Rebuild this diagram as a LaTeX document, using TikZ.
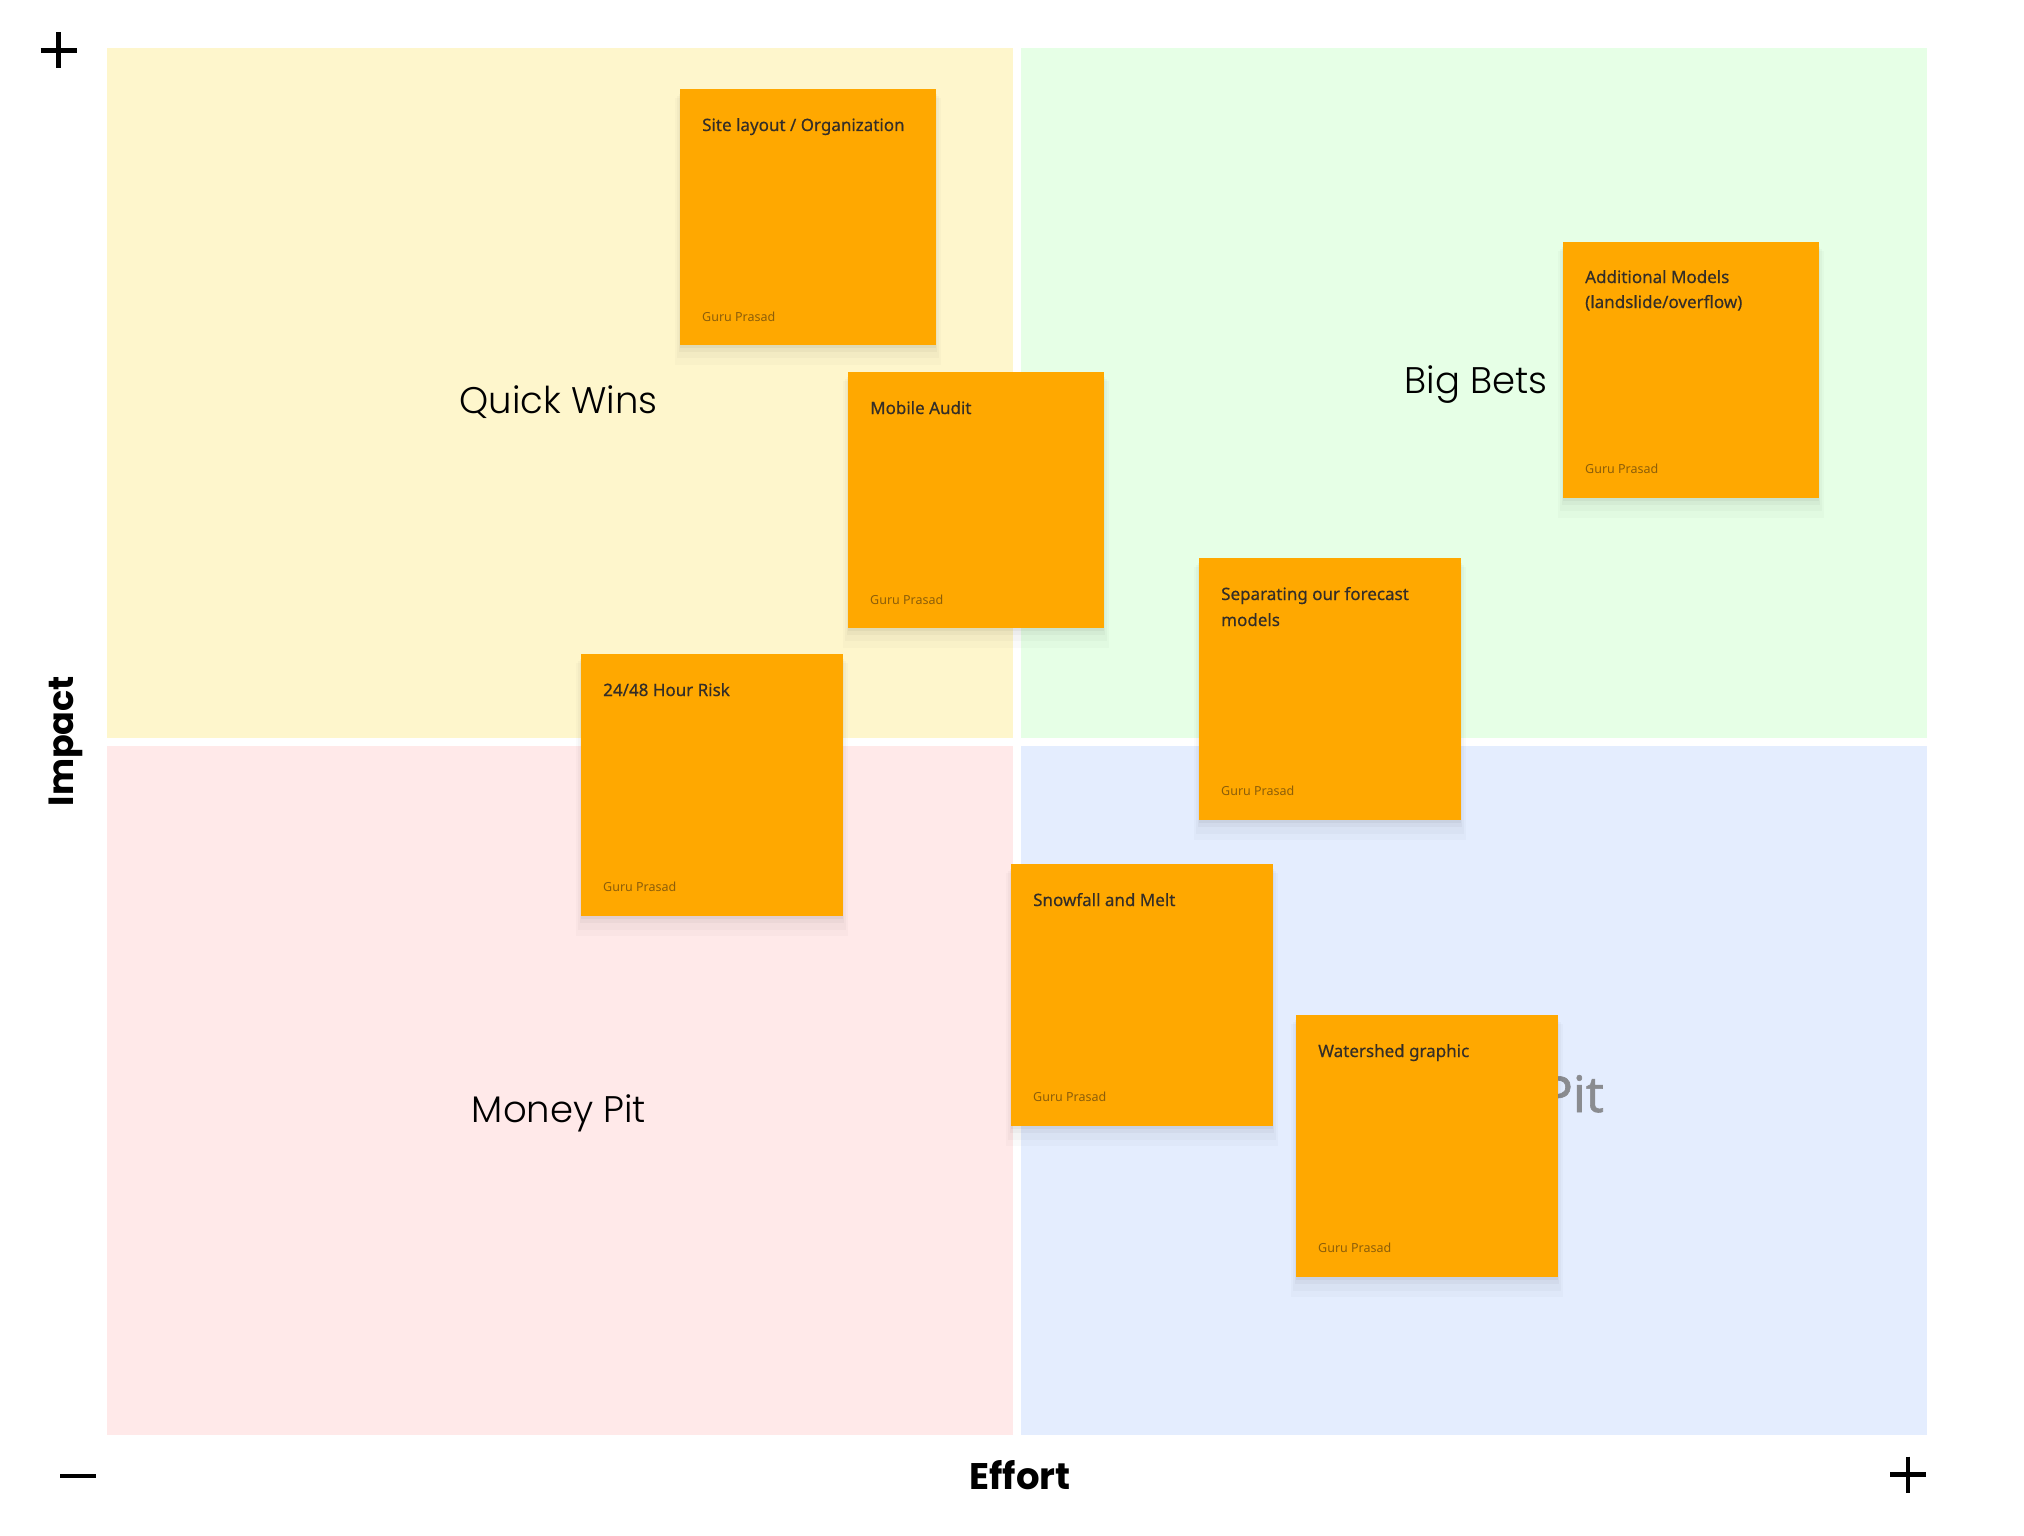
\documentclass[tikz,border=0pt]{standalone}
\usepackage{fontspec}
\usetikzlibrary{shadows}
\setmainfont{Noto Sans}
\IfFontExistsTF{Poppins Light}{\newfontfamily\quadfont{Poppins Light}}{\newfontfamily\quadfont{Poppins}}
\newfontfamily\medfont{Noto Sans}[FakeBold=0.4]
\newfontfamily\pitfont{Noto Sans}[FakeBold=1.2]
\newfontfamily\axfont{Poppins}
\definecolor{qyellow}{RGB}{254,246,204}
\definecolor{qgreen}{RGB}{230,255,230}
\definecolor{qpink}{RGB}{255,233,233}
\definecolor{qblue}{RGB}{228,237,254}
\definecolor{stickyc}{RGB}{255,168,0}
\definecolor{ttlc}{RGB}{52,46,40}
\definecolor{authc}{RGB}{140,94,10}
\definecolor{pitc}{RGB}{138,140,144}
\begin{document}
\begin{tikzpicture}[x=1pt,y=-1pt,
  quad/.style={draw=none,inner sep=0,outer sep=0,anchor=north west,minimum width=906pt},
  sticky/.style={fill=stickyc,draw=none,inner sep=0,outer sep=0,anchor=north west,
    drop shadow={shadow xshift=0pt,shadow yshift=-14pt,opacity=0.02,fill=black,shadow scale=1.04},
    drop shadow={shadow xshift=0pt,shadow yshift=-10pt,opacity=0.025,fill=black,shadow scale=1.025},
    drop shadow={shadow xshift=0pt,shadow yshift=-6pt,opacity=0.03,fill=black,shadow scale=1.01},
    drop shadow={shadow xshift=0pt,shadow yshift=-3pt,opacity=0.04,fill=black}},
  ttl/.style={inner sep=0,anchor=base west,text=ttlc,font=\medfont\fontsize{17}{25}\selectfont},
  auth/.style={inner sep=0,anchor=base west,text=authc,font=\fontsize{12.5}{15}\selectfont},
  qlabel/.style={inner sep=0,text=black,font=\quadfont\fontsize{37}{44}\selectfont},
  axlabel/.style={inner sep=0,text=black,font=\axfont\bfseries\fontsize{37}{44}\selectfont},
  axmark/.style={line width=4.5pt,black}]
\useasboundingbox (0,0) rectangle (2024,1536);
\fill[white] (0,0) rectangle (2024,1536);
% quadrants
\node[quad,fill=qyellow,minimum height=690pt] (qw) at (107,48) {};
\node[quad,fill=qgreen,minimum height=690pt] (bb) at (1021,48) {};
\node[quad,fill=qpink,minimum height=689pt] (mp) at (107,746) {};
\node[quad,fill=qblue,minimum height=689pt] (lr) at (1021,746) {};
% quadrant labels
\node[qlabel,anchor=base] (lqw) at (558.5,413) {Quick Wins};
\node[qlabel,anchor=base] (lbb) at (1476,393) {Big Bets};
\node[qlabel,anchor=base] (lmp) at (559,1122) {Money Pit};
\node[inner sep=0,anchor=base east,text=pitc,font=\pitfont\fontsize{50}{60}\selectfont] (lpit) at (1604,1112) {Pit};
% axes
\draw[axmark] (40.5,50.5) -- (76.5,50.5);
\draw[axmark] (58.5,32.5) -- (58.5,68.5);
\draw[axmark] (60,1476) -- (96,1476);
\draw[axmark] (1890,1474.5) -- (1926,1474.5);
\draw[axmark] (1908,1456.5) -- (1908,1492.5);
\node[axlabel,anchor=base] (eff) at (1020,1489) {Effort};
\node[axlabel,anchor=base,rotate=90,font=\axfont\bfseries\fontsize{35}{42}\selectfont] (imp) at (73,741) {Impact};
% stickies
\node[sticky,minimum width=256pt,minimum height=256pt] (s1) at (680,89) {};
\node[ttl] (t1) at ([xshift=22pt,yshift=-42pt]s1.north west) {Site layout / Organization};
\node[auth] (a1) at ([xshift=22pt,yshift=24pt]s1.south west) {Guru Prasad};

\node[sticky,minimum width=256pt,minimum height=256pt] (s2) at (848,372) {};
\node[ttl] (t2) at ([xshift=22pt,yshift=-42pt]s2.north west) {Mobile Audit};
\node[auth] (a2) at ([xshift=22pt,yshift=24pt]s2.south west) {Guru Prasad};

\node[sticky,minimum width=262pt,minimum height=262pt] (s3) at (581,654) {};
\node[ttl] (t3) at ([xshift=22pt,yshift=-42pt]s3.north west) {24/48 Hour Risk};
\node[auth] (a3) at ([xshift=22pt,yshift=25pt]s3.south west) {Guru Prasad};

\node[sticky,minimum width=262pt,minimum height=262pt] (s4) at (1199,558) {};
\node[ttl] (t4) at ([xshift=22pt,yshift=-42pt]s4.north west) {Separating our forecast};
\node[ttl] (t4b) at ([xshift=22pt,yshift=-68pt]s4.north west) {models};
\node[auth] (a4) at ([xshift=22pt,yshift=25pt]s4.south west) {Guru Prasad};

\node[sticky,minimum width=256pt,minimum height=256pt] (s5) at (1563,242) {};
\node[ttl] (t5) at ([xshift=22pt,yshift=-41pt]s5.north west) {Additional Models};
\node[ttl] (t5b) at ([xshift=22pt,yshift=-66pt]s5.north west) {(landslide/overflow)};
\node[auth] (a5) at ([xshift=22pt,yshift=25pt]s5.south west) {Guru Prasad};

\node[sticky,minimum width=262pt,minimum height=262pt] (s6) at (1011,864) {};
\node[ttl] (t6) at ([xshift=22pt,yshift=-42pt]s6.north west) {Snowfall and Melt};
\node[auth] (a6) at ([xshift=22pt,yshift=25pt]s6.south west) {Guru Prasad};

\node[sticky,minimum width=262pt,minimum height=262pt] (s7) at (1296,1015) {};
\node[ttl] (t7) at ([xshift=22pt,yshift=-42pt]s7.north west) {Watershed graphic};
\node[auth] (a7) at ([xshift=22pt,yshift=25pt]s7.south west) {Guru Prasad};
\end{tikzpicture}
\end{document}
